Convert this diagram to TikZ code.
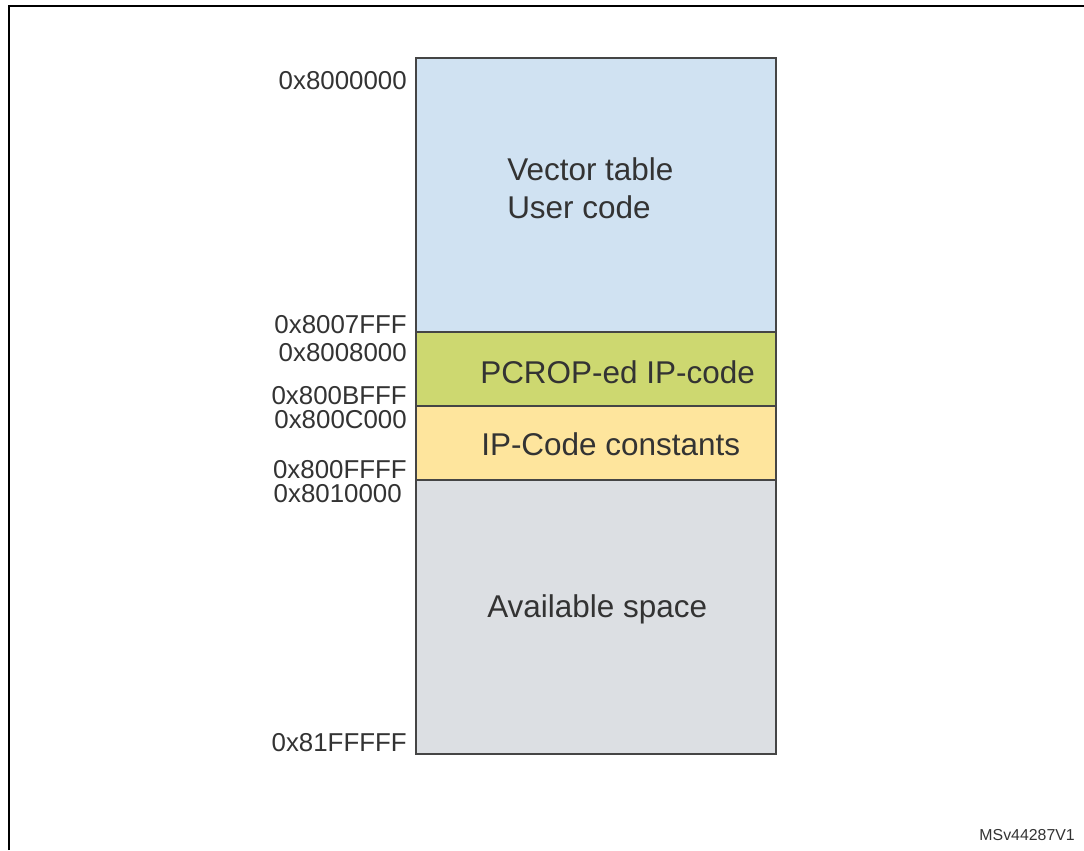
\documentclass[tikz,border=0pt]{standalone}
\usepackage{fontspec}
\setmainfont{Liberation Sans}
\definecolor{txt}{HTML}{333333}
\definecolor{edge}{HTML}{454545}
\definecolor{vecfill}{HTML}{D0E2F2}
\definecolor{ipfill}{HTML}{CDD870}
\definecolor{constfill}{HTML}{FEE59D}
\definecolor{freefill}{HTML}{DCDFE3}
\tikzset{
  region/.style={draw=edge, line width=1.1pt, rectangle, inner sep=0pt,
    minimum width=270pt},
  regtext/.style={anchor=base west, inner sep=0pt, text=txt,
    font=\fontsize{23.6pt}{28pt}\selectfont},
  addr/.style={anchor=base east, inner sep=0pt, text=txt,
    font=\fontsize{19.4pt}{23pt}\selectfont},
}
\begin{document}
\begin{tikzpicture}[x=0.75pt, y=-0.75pt]
\useasboundingbox (0,0) rectangle (1084,850);
% outer frame
\draw[line width=2pt, black] (9,850) -- (9,6) -- (1084,6);
% memory regions
\node[region, fill=vecfill, minimum height=205.5pt] (vec) at (596,195) {};
\node[region, fill=ipfill, minimum height=55.5pt] (ip) at (596,369) {};
\node[region, fill=constfill, minimum height=55.5pt] (const) at (596,443) {};
\node[region, fill=freefill, minimum height=205.5pt] (free) at (596,617) {};
% region contents
\node[regtext] (t1) at (507,180) {Vector table};
\node[regtext] (t2) at (507,218) {User code};
\node[regtext] (t3) at (480,383) {PCROP-ed IP-code};
\node[regtext] (t4) at (481,455) {IP-Code constants};
\node[regtext] (t5) at (487,617) {Available space};
% addresses
\node[addr] (a1) at (407,89) {0x8000000};
\node[addr] (a2) at (407,333) {0x8007FFF};
\node[addr] (a3) at (407,361) {0x8008000};
\node[addr] (a4) at (407,404) {0x800BFFF};
\node[addr] (a5) at (407,428) {0x800C000};
\node[addr] (a6) at (407,478) {0x800FFFF};
\node[addr] (a7) at (402,502) {0x8010000};
\node[addr] (a8) at (407,751) {0x81FFFFF};
% figure id
\node[anchor=base east, inner sep=0pt, text=txt, font=\fontsize{11.9pt}{14pt}\selectfont] (id) at (1075,840) {MSv44287V1};
\end{tikzpicture}
\end{document}
